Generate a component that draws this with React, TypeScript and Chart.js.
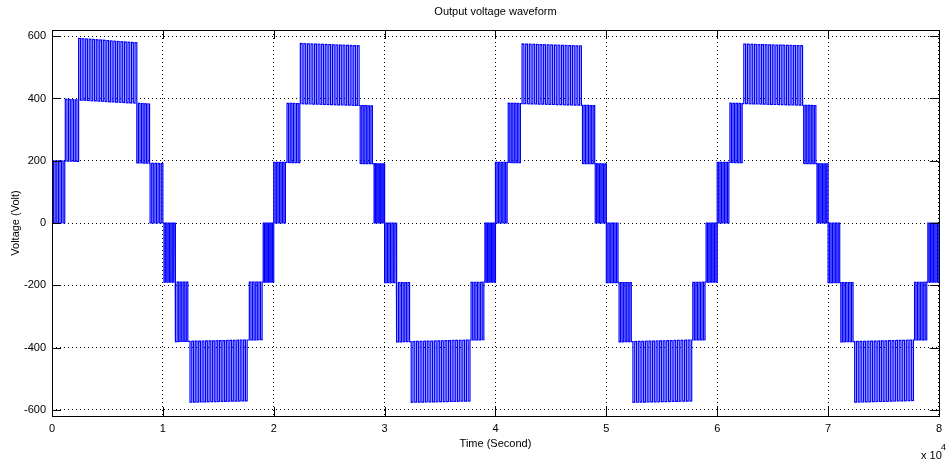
import React, { useEffect, useRef } from 'react';
import { Chart, registerables } from 'chart.js';

Chart.register(...registerables);

// ---- data (time in units of 10^4 s) ----
const xTicks = [0, 1, 2, 3, 4, 5, 6, 7, 8];
const yTicks = [-600, -400, -200, 0, 200, 400, 600];

// half cycles: start time and polarity
const halfStart = [0, 1, 2, 3, 4, 5, 6, 7];
const halfSign = [1, -1, 1, -1, 1, -1, 1, -1];

// switching band limits per half cycle: inner, middle, outer, middle, inner  (start,end pairs)
const bandLimits = [
  [0.0, 0.115, 0.12, 0.24, 0.24, 0.765, 0.765, 0.88, 0.885, 1.0],
  [1.01, 1.11, 1.115, 1.225, 1.245, 1.76, 1.78, 1.895, 1.905, 2.0],
  [2.0, 2.105, 2.12, 2.235, 2.24, 2.77, 2.78, 2.89, 2.905, 3.0],
  [3.0, 3.105, 3.11, 3.225, 3.24, 3.77, 3.78, 3.895, 3.905, 4.0],
  [4.0, 4.105, 4.115, 4.225, 4.24, 4.775, 4.785, 4.895, 4.9, 5.0],
  [5.0, 5.105, 5.115, 5.225, 5.24, 5.77, 5.78, 5.89, 5.9, 6.0],
  [6.0, 6.105, 6.115, 6.225, 6.24, 6.77, 6.78, 6.89, 6.9, 7.0],
  [7.0, 7.105, 7.115, 7.225, 7.24, 7.77, 7.78, 7.89, 7.9, 8.0],
];

// voltage levels (magnitude) at start / end of each half cycle
const level1 = [[200, 191], [190, 190], [195, 190], [192, 190], [195, 190], [192, 190], [195, 190], [192, 190]];
const level2 = [[400, 380], [382, 374], [386, 375], [383, 374], [386, 376], [383, 374], [386, 376], [383, 374]];
const level3 = [[600, 572], [578, 569], [580, 566], [578, 570], [578, 566], [578, 570], [577, 567], [578, 568]];

// switching edges counted in each band (inner, middle, outer, middle, inner)
const edgeCounts = [9, 9, 34, 9, 9];

const FONT = "'Liberation Sans Narrow', 'Liberation Sans', Arial, sans-serif";

function buildWave() {
  const pts: { x: number; y: number }[] = [{ x: 0, y: 0 }];
  for (let h = 0; h < halfStart.length; h++) {
    const h0 = halfStart[h];
    const s = halfSign[h];
    const lv0 = [0, 0];
    const lv1 = level1[h];
    const lv2 = level2[h];
    const lv3 = level3[h];
    const L = (lv: number[], t: number) => s * (lv[0] + (lv[1] - lv[0]) * (t - h0));
    const bands: [number[], number[], boolean][] = [
      [lv0, lv1, false],
      [lv1, lv2, false],
      [lv2, lv3, false],
      [lv1, lv2, true],
      [lv0, lv1, true],
    ];
    const lim = bandLimits[h];
    for (let b = 0; b < 5; b++) {
      const [lo, hi, startHigh] = bands[b];
      const ts = lim[b * 2];
      const te = lim[b * 2 + 1];
      const m = edgeCounts[b];
      let high = startHigh;
      for (let k = 0; k < m; k++) {
        const t = ts + (k * (te - ts)) / (m - 1);
        pts.push({ x: t, y: high ? L(hi, t) : L(lo, t) });
        high = !high;
        pts.push({ x: t, y: high ? L(hi, t) : L(lo, t) });
      }
    }
  }
  pts.push({ x: 8, y: 0 });
  return pts;
}

const framePlugin = {
  id: 'matlabFrame',
  afterDraw(chart: any) {
    const { ctx, chartArea } = chart;
    const { left, right, top, bottom } = chartArea;
    const xs = chart.scales.x;
    const ys = chart.scales.y;
    const r = (v: number) => Math.round(v) + 0.5;
    ctx.save();
    ctx.strokeStyle = '#000';
    ctx.lineWidth = 1;
    ctx.strokeRect(r(left), r(top), Math.round(right) - Math.round(left), Math.round(bottom) - Math.round(top));
    const tl = 9;
    ctx.beginPath();
    xTicks.forEach((v) => {
      const px = r(xs.getPixelForValue(v));
      ctx.moveTo(px, bottom);
      ctx.lineTo(px, bottom - tl);
      ctx.moveTo(px, top);
      ctx.lineTo(px, top + tl);
    });
    yTicks.forEach((v) => {
      const py = r(ys.getPixelForValue(v));
      ctx.moveTo(left, py);
      ctx.lineTo(left + tl, py);
      ctx.moveTo(right, py);
      ctx.lineTo(right - tl, py);
    });
    ctx.stroke();

    ctx.fillStyle = '#000';
    ctx.font = `11px ${FONT}`;
    ctx.textAlign = 'center';
    ctx.textBaseline = 'middle';
    const cx = (left + right) / 2;
    ctx.fillText('Output voltage waveform', cx, 12);
    ctx.fillText('Time (Second)', cx, 444);
    ctx.save();
    ctx.translate(16, (top + bottom) / 2);
    ctx.rotate(-Math.PI / 2);
    ctx.fillText('Voltage (Volt)', 0, 0);
    ctx.restore();
    ctx.textAlign = 'left';
    ctx.fillText('x 10', 921, 456);
    ctx.font = `9px ${FONT}`;
    ctx.fillText('4', 941, 448);
    ctx.restore();
  },
};

export default function App() {
  const ref = useRef<HTMLCanvasElement | null>(null);
  useEffect(() => {
    if (!ref.current) return;
    const chart = new Chart(ref.current, {
      type: 'scatter',
      data: {
        datasets: [
          {
            data: buildWave(),
            showLine: true,
            borderColor: '#0000ff',
            borderWidth: 1.2,
            pointRadius: 0,
            pointHoverRadius: 0,
            tension: 0,
            fill: false,
          } as any,
        ],
      },
      options: {
        animation: false,
        responsive: false,
        maintainAspectRatio: false,
        events: [],
        layout: { padding: { top: 30, right: 5, left: 0, bottom: 0 } },
        plugins: { legend: { display: false }, tooltip: { enabled: false }, title: { display: false } },
        scales: {
          x: {
            type: 'linear',
            min: 0,
            max: 8,
            afterBuildTicks: (s: any) => {
              s.ticks = xTicks.map((v) => ({ value: v }));
            },
            afterFit: (s: any) => {
              s.height = 48;
            },
            grid: { color: '#000', drawTicks: false, lineWidth: 1 },
            border: { display: false, dash: [1, 3] },
            ticks: { padding: 6, color: '#000', font: { family: FONT, size: 11 }, maxRotation: 0, autoSkip: false },
          },
          y: {
            type: 'linear',
            min: -620,
            max: 620,
            afterBuildTicks: (s: any) => {
              s.ticks = yTicks.map((v) => ({ value: v }));
            },
            afterFit: (s: any) => {
              s.width = 52;
            },
            grid: { color: '#000', drawTicks: false, lineWidth: 1 },
            border: { display: false, dash: [1, 3] },
            ticks: { padding: 6, color: '#000', font: { family: FONT, size: 11 }, autoSkip: false },
          },
        },
      },
      plugins: [framePlugin],
    });
    return () => chart.destroy();
  }, []);
  return (
    <div style={{ position: 'fixed', left: 0, top: 0, width: 948, height: 464, background: '#fff' }}>
      <canvas ref={ref} width={948} height={464} style={{ width: 948, height: 464, display: 'block' }} />
    </div>
  );
}
